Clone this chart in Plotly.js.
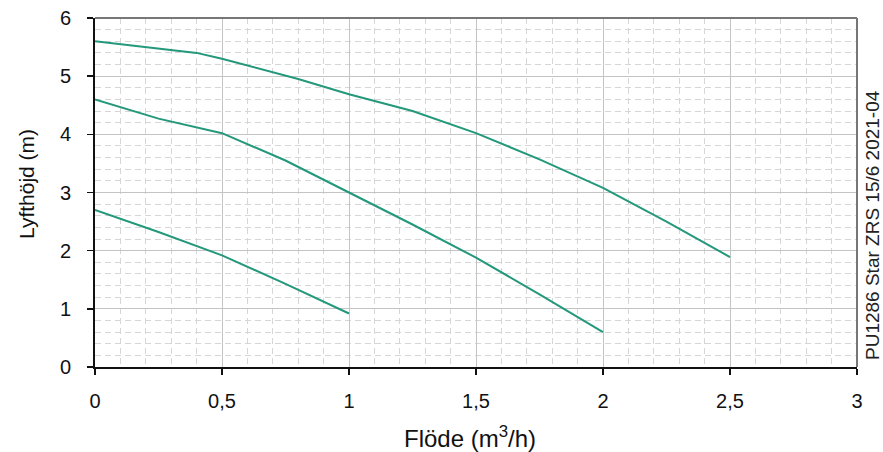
<!DOCTYPE html>
<html>
<head>
<meta charset="utf-8">
<script src="https://cdn.plot.ly/plotly-3.0.1.min.js"></script>
<style>html,body{margin:0;padding:0;background:#fff;}#chart{width:883px;height:452px;}</style>
</head>
<body>
<div id="chart"></div>
<script>
// Flow (m3/h) and head (m) for the three speed curves
const flowHigh = [0, 0.4, 0.5, 0.8, 1.0, 1.25, 1.5, 1.75, 2.0, 2.25, 2.5];
const headHigh = [5.6, 5.4, 5.3, 4.95, 4.69, 4.4, 4.02, 3.57, 3.08, 2.5, 1.89];
const flowMid = [0, 0.25, 0.5, 0.75, 1.0, 1.25, 1.5, 1.75, 2.0];
const headMid = [4.6, 4.27, 4.02, 3.55, 3.0, 2.45, 1.88, 1.25, 0.6];
const flowLow = [0, 0.25, 0.5, 0.75, 1.0];
const headLow = [2.7, 2.32, 1.92, 1.43, 0.92];
const xTicks = [0, 0.5, 1, 1.5, 2, 2.5, 3];
const xTickText = ["0", "0,5", "1", "1,5", "2", "2,5", "3"];
const yTicks = [0, 1, 2, 3, 4, 5, 6];
const xTitle = 'Flöde (m<sup>3</sup>/h)';
const yTitle = 'Lyfthöjd (m)';
const sideNote = 'PU1286 Star ZRS 15/6 2021-04';

const lineColor = '#23987b';
const traces = [
  {x: flowHigh, y: headHigh},
  {x: flowMid, y: headMid},
  {x: flowLow, y: headLow}
].map(t => Object.assign(t, {type: 'scatter', mode: 'lines', line: {color: lineColor, width: 2}, hoverinfo: 'skip'}));

const fam = 'Liberation Sans, Arial, sans-serif';
// plot area: x 95..857, y 18..367
const W = 883, H = 452, L = 95, R = 26, T = 18, B = 85;
const pw = W - L - R, ph = H - T - B;
const px = v => (v - L) / pw;
const py = v => (H - B - v) / ph;

const layout = {
  width: W, height: H,
  margin: {l: L, r: R, t: T, b: B},
  paper_bgcolor: '#fff', plot_bgcolor: '#fff',
  showlegend: false,
  font: {family: fam, color: '#111'},
  xaxis: {
    range: [0, 3], tickvals: xTicks, ticktext: xTickText,
    showline: true, linecolor: '#111', linewidth: 2,
    ticks: 'outside', ticklen: 6, tickwidth: 1.5, tickcolor: '#111',
    ticklabelstandoff: 9,
    tickfont: {size: 20, family: fam, color: '#111'},
    showgrid: true, gridcolor: '#c4c4c4', gridwidth: 1,
    minor: {dtick: 0.1, showgrid: true, gridcolor: '#d6d6d6', griddash: '6px,4px', gridwidth: 1},
    zeroline: false
  },
  yaxis: {
    range: [0, 6], tickvals: yTicks,
    showline: true, linecolor: '#111', linewidth: 2,
    ticks: 'outside', ticklen: 6, tickwidth: 1.5, tickcolor: '#111',
    ticklabelstandoff: 12,
    tickfont: {size: 20, family: fam, color: '#111'},
    showgrid: true, gridcolor: '#c4c4c4', gridwidth: 1,
    minor: {dtick: 0.2, showgrid: true, gridcolor: '#d6d6d6', griddash: '6px,4px', gridwidth: 1},
    zeroline: false
  },
  shapes: [
    {type: 'line', xref: 'paper', yref: 'paper', x0: 0, x1: 1, y0: 1, y1: 1, line: {color: '#777', width: 2}},
    {type: 'line', xref: 'paper', yref: 'paper', x0: 1, x1: 1, y0: 0, y1: 1, line: {color: '#777', width: 2}}
  ],
  annotations: [
    {text: xTitle, xref: 'paper', yref: 'paper', x: px(470), y: py(437), showarrow: false,
     xanchor: 'center', yanchor: 'middle', font: {size: 24, family: fam, color: '#111'}},
    {text: yTitle, xref: 'paper', yref: 'paper', x: px(26), y: py(184), textangle: -90, showarrow: false,
     xanchor: 'center', yanchor: 'middle', font: {size: 21, family: fam, color: '#111'}},
    {text: sideNote, xref: 'paper', yref: 'paper', x: px(873), y: py(225),
     textangle: -90, showarrow: false, xanchor: 'center', yanchor: 'middle',
     font: {size: 19, family: fam, color: '#222'}}
  ]
};
Plotly.newPlot('chart', traces, layout, {displayModeBar: false, staticPlot: true});
</script>
</body>
</html>
